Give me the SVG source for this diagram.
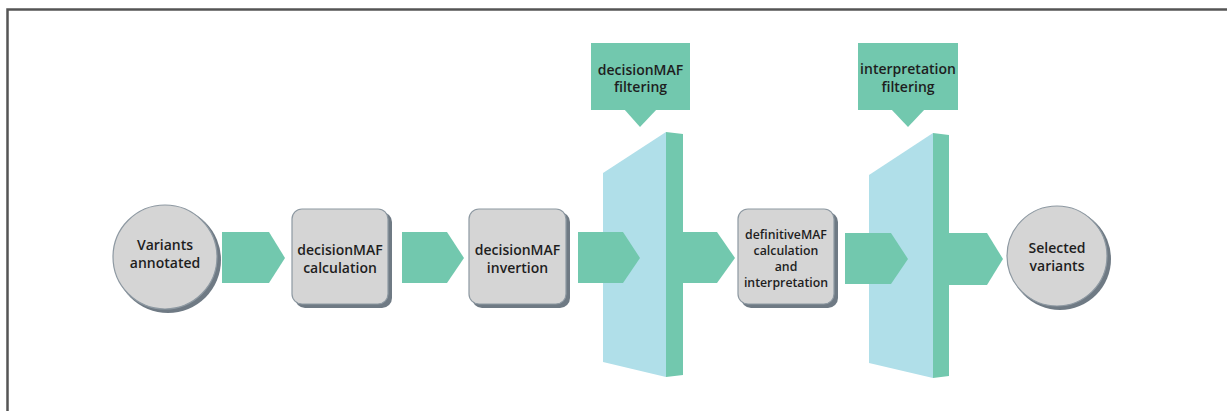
<svg xmlns="http://www.w3.org/2000/svg" width="1227" height="411" viewBox="0 0 1227 411">
<style>
.t{font-family:"Open Sans","Liberation Sans",sans-serif;font-weight:600;font-size:14px;fill:#1e1e1e;text-anchor:middle}
.ts{font-size:12.3px}
.node{fill:#d5d5d5;stroke:#8e99a2;stroke-width:1.2}
.sh{fill:#6f7a84}
.arr{fill:#72c8ae}
.panel{fill:#b0dfe9}
.side{fill:#72c8ae}
.lab{fill:#72c8ae}
</style>
<rect width="1227" height="411" fill="#fff"/>
<path d="M7.5 411 V9.5 H1227" fill="none" stroke="#555" stroke-width="2.5"/>

<g id="filter1">
<polygon class="panel" points="603,173 666,132 666,377 603,362"/>
</g>
<g id="filter2">
<polygon class="panel" points="869,175 933,133 933,378 869,363"/>
</g>

<g id="connectors">
<polygon class="arr" points="222,232 269,232 285,258 269,283 222,283"/>
<polygon class="arr" points="402,232 447,232 464,258 447,283 402,283"/>
<polygon class="arr" points="578,232 623,232 640,258 623,283 578,283"/>
<polygon class="arr" points="683,232 717,232 735,258 717,283 683,283"/>
<polygon class="arr" points="845,233 891,233 908,259 891,284 845,284"/>
<polygon class="arr" points="949,233 987,233 1003,259 987,285 949,285"/>
</g>

<g id="filter1-side">
<polygon class="side" points="666,132 683,134 683,375 666,377"/>
</g>
<g id="filter2-side">
<polygon class="side" points="933,133 949,135 949,376 933,378"/>
</g>

<g id="label1">
<rect class="lab" x="591" y="43" width="99" height="67"/>
<polygon class="lab" points="624,109 657,109 640,127"/>
<text class="t" x="640.5" y="75">decisionMAF</text>
<text class="t" x="640.5" y="92">filtering</text>
</g>
<g id="label2">
<rect class="lab" x="858" y="43" width="100" height="67"/>
<polygon class="lab" points="891,109 925,109 908,127"/>
<text class="t" x="908" y="74">interpretation</text>
<text class="t" x="908" y="92">filtering</text>
</g>

<g id="variants-annotated">
<circle class="sh" cx="168" cy="260" r="53"/>
<circle class="node" cx="165" cy="257" r="52"/>
<text class="t" x="165" y="250">Variants</text>
<text class="t" x="165" y="268">annotated</text>
</g>

<g id="decisionMAF-calculation">
<rect class="sh" x="295" y="212" width="97" height="96" rx="10"/>
<rect class="node" x="292" y="209" width="96" height="95" rx="10"/>
<text class="t" x="340" y="255">decisionMAF</text>
<text class="t" x="340" y="273">calculation</text>
</g>

<g id="decisionMAF-invertion">
<rect class="sh" x="472" y="212" width="98" height="96" rx="10"/>
<rect class="node" x="469" y="209" width="97" height="95" rx="10"/>
<text class="t" x="517.5" y="255">decisionMAF</text>
<text class="t" x="517.5" y="273">invertion</text>
</g>

<g id="definitiveMAF">
<rect class="sh" x="741" y="212" width="97" height="96" rx="10"/>
<rect class="node" x="738" y="209" width="96" height="95" rx="10"/>
<text class="t ts" x="786" y="239">definitiveMAF</text>
<text class="t ts" x="786" y="255">calculation</text>
<text class="t ts" x="786" y="271">and</text>
<text class="t ts" x="786" y="287">interpretation</text>
</g>

<g id="selected-variants">
<circle class="sh" cx="1060" cy="259" r="51"/>
<circle class="node" cx="1057" cy="256" r="50"/>
<text class="t" x="1057" y="253">Selected</text>
<text class="t" x="1057" y="271">variants</text>
</g>
</svg>
